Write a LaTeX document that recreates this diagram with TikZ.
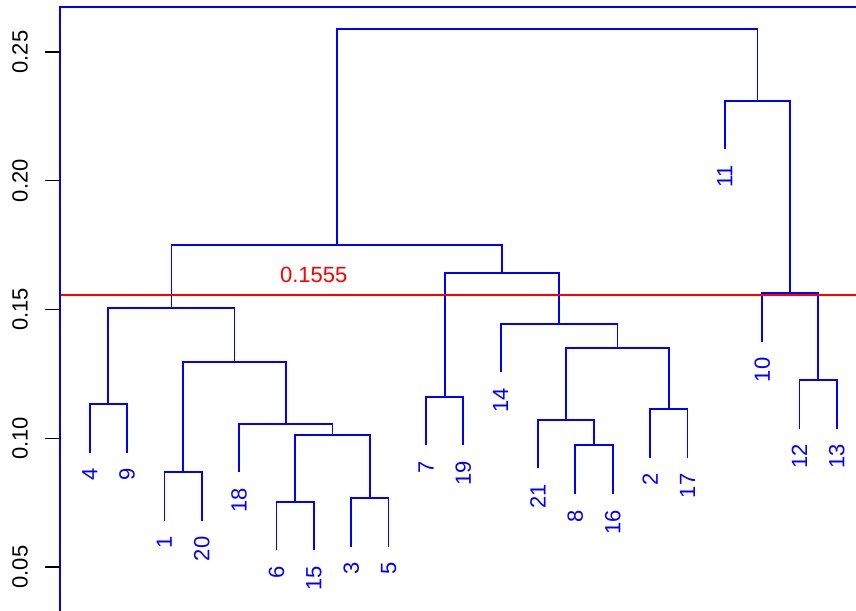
\documentclass[tikz,border=0pt]{standalone}
\usepackage{fontspec}
\setmainfont{Liberation Sans}
\usetikzlibrary{calc}
\definecolor{rblue}{RGB}{0,0,255}
\definecolor{rred}{RGB}{255,0,0}
\begin{document}
\begin{tikzpicture}[x=1pt,y=-1pt,
  tree/.style={draw=rblue,line width=1.8pt,line cap=rect},
  leaflab/.style={text=rblue,rotate=90,anchor=east,inner sep=0pt,font=\fontsize{22}{26}\selectfont},
  ticklab/.style={rotate=90,inner sep=0pt,font=\fontsize{22}{26}\selectfont},
  tickmark/.style={draw=black,line width=1.2pt},
  cutline/.style={fill=rred,draw=none}]
\useasboundingbox (0,0) rectangle (856,610);
\fill[white] (0,0) rectangle (856,610);
% frame / axis
\coordinate (fbl) at (60,612);
\coordinate (ftl) at (60,7);
\coordinate (ftr) at (858,7);
\draw[draw=rblue,line width=1.8pt] (fbl) -- (ftl) -- (ftr);
% ticks
\foreach \i/\v/\y in {1/0.25/52,2/0.20/180.75,3/0.15/309.5,4/0.10/438.25,5/0.05/567}{
  \coordinate (ta\i) at (60,\y);
  \coordinate (tb\i) at (45,\y);
  \draw[tickmark] (ta\i) -- (tb\i);
  \node[ticklab] (tl\i) at (20,\y) {\v};
}
% leaves (x positions, leaf end y)
\def\lx#1{(89.7+(#1-1)*37.36)}
\coordinate (l4)  at ({\lx{1}},451.7);
\coordinate (l9)  at ({\lx{2}},451.7);
\coordinate (l1)  at ({\lx{3}},520);
\coordinate (l20) at ({\lx{4}},520);
\coordinate (l18) at ({\lx{5}},471.5);
\coordinate (l6)  at ({\lx{6}},549.5);
\coordinate (l15) at ({\lx{7}},549.5);
\coordinate (l3)  at ({\lx{8}},545.7);
\coordinate (l5)  at ({\lx{9}},545.7);
\coordinate (l7)  at ({\lx{10}},444.4);
\coordinate (l19) at ({\lx{11}},444.4);
\coordinate (l14) at ({\lx{12}},371.5);
\coordinate (l21) at ({\lx{13}},467.4);
\coordinate (l8)  at ({\lx{14}},493.2);
\coordinate (l16) at ({\lx{15}},493.2);
\coordinate (l2)  at ({\lx{16}},457);
\coordinate (l17) at ({\lx{17}},457);
\coordinate (l11) at ({\lx{18}},148.4);
\coordinate (l10) at ({\lx{19}},341);
\coordinate (l12) at ({\lx{20}},427.7);
\coordinate (l13) at ({\lx{21}},427.7);
% merge x positions
\pgfmathsetmacro\xA{(\lx{1}+\lx{2})/2}
\pgfmathsetmacro\xB{(\lx{3}+\lx{4})/2}
\pgfmathsetmacro\xC{(\lx{6}+\lx{7})/2}
\pgfmathsetmacro\xD{(\lx{8}+\lx{9})/2}
\pgfmathsetmacro\xE{(\xC+\xD)/2}
\pgfmathsetmacro\xF{(\lx{5}+\xE)/2}
\pgfmathsetmacro\xG{(\xB+\xF)/2}
\pgfmathsetmacro\xH{(\xA+\xG)/2}
\pgfmathsetmacro\xI{(\lx{10}+\lx{11})/2}
\pgfmathsetmacro\xJ{(\lx{14}+\lx{15})/2}
\pgfmathsetmacro\xK{(\lx{13}+\xJ)/2}
\pgfmathsetmacro\xL{(\lx{16}+\lx{17})/2}
\pgfmathsetmacro\xM{(\xK+\xL)/2}
\pgfmathsetmacro\xN{(\lx{12}+\xM)/2}
\pgfmathsetmacro\xO{(\xI+\xN)/2}
\pgfmathsetmacro\xP{(\xH+\xO)/2}
\pgfmathsetmacro\xQ{(\lx{20}+\lx{21})/2}
\pgfmathsetmacro\xR{(\lx{19}+\xQ)/2}
\pgfmathsetmacro\xS{(\lx{18}+\xR)/2}
\pgfmathsetmacro\xT{(\xP+\xS)/2}
\coordinate (mA) at (\xA,404);
\coordinate (mB) at (\xB,472.3);
\coordinate (mC) at (\xC,502);
\coordinate (mD) at (\xD,498);
\coordinate (mE) at (\xE,435);
\coordinate (mF) at (\xF,423.7);
\coordinate (mG) at (\xG,362.3);
\coordinate (mH) at (\xH,308.3);
\coordinate (mI) at (\xI,396.7);
\coordinate (mJ) at (\xJ,445.3);
\coordinate (mK) at (\xK,419.7);
\coordinate (mL) at (\xL,409.3);
\coordinate (mM) at (\xM,348);
\coordinate (mN) at (\xN,324);
\coordinate (mO) at (\xO,273.3);
\coordinate (mP) at (\xP,244.7);
\coordinate (mQ) at (\xQ,380);
\coordinate (mR) at (\xR,293.3);
\coordinate (mS) at (\xS,100.7);
\coordinate (mT) at (\xT,29.3);
% branches
\draw[tree] (l4) |- (mA) -| (l9);
\draw[tree] (l1) |- (mB) -| (l20);
\draw[tree] (l6) |- (mC) -| (l15);
\draw[tree] (l3) |- (mD) -| (l5);
\draw[tree] (mC) |- (mE) -| (mD);
\draw[tree] (l18) |- (mF) -| (mE);
\draw[tree] (mB) |- (mG) -| (mF);
\draw[tree] (mA) |- (mH) -| (mG);
\draw[tree] (l7) |- (mI) -| (l19);
\draw[tree] (l8) |- (mJ) -| (l16);
\draw[tree] (l21) |- (mK) -| (mJ);
\draw[tree] (l2) |- (mL) -| (l17);
\draw[tree] (mK) |- (mM) -| (mL);
\draw[tree] (l14) |- (mN) -| (mM);
\draw[tree] (mI) |- (mO) -| (mN);
\draw[tree] (mH) |- (mP) -| (mO);
\draw[tree] (l12) |- (mQ) -| (l13);
\draw[tree] (l10) |- (mR) -| (mQ);
\draw[tree] (l11) |- (mS) -| (mR);
\draw[tree] (mP) |- (mT) -| (mS);
% leaf labels
\foreach \n in {4,9,1,20,18,6,15,3,5,7,19,14,21,8,16,2,17,11,10,12,13}{
  \node[leaflab] (lab\n) at ($(l\n)+(0,16.5)$) {\n};
}
% cut line
\coordinate (cl) at (60.8,294.3);
\coordinate (cr) at (856,296.3);
\path[cutline] (cl) rectangle (cr);
\node[text=rred,inner sep=0pt,font=\fontsize{22}{26}\selectfont] (cutlab) at (313.7,274.5) {0.1555};
\end{tikzpicture}
\end{document}
